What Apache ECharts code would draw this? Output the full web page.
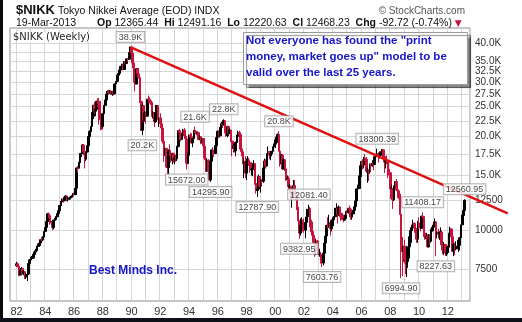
<!DOCTYPE html>
<html>
<head>
<meta charset="utf-8">
<script src="https://cdn.jsdelivr.net/npm/echarts/dist/echarts.min.js"></script>
<style>
  html, body { margin: 0; padding: 0; background: #fff; }
  #wrap { position: relative; width: 522px; height: 322px; overflow: hidden; background: #fff; }
  #chart { position: absolute; left: 0; top: 0; width: 522px; height: 322px; }
  .edgeL { position: absolute; left: 0; top: 0; width: 3px; height: 322px; background: #0a0a0a; }
  .edgeB { position: absolute; left: 0; top: 318px; width: 522px; height: 4px; background: #101018; }
</style>
</head>
<body>
<div id="wrap"><div id="chart"></div><div class="edgeL"></div><div class="edgeB"></div></div>
<script>
// Axis span (monthly bands) and first month with a bar
const axisStart = '1981-08';
const axisEnd = '2013-07';
const firstMonth = '1982-01';
const openBeforeFirst = 7681;

// Monthly closes, Jan 1982 .. Mar 2013 (12 per row)
const closes = [
  7780,7650,7160,7380,7520,7240,7340,7060,7180,7210,7800,8016,
  8100,8130,8350,8500,8580,8860,8910,9080,9310,9300,9490,9893,
  10200,10650,11290,11130,10560,10550,10200,10760,10800,11040,11300,11542,
  11990,12320,12580,12430,12760,12880,12560,12670,12700,12760,12870,13113,
  13020,13640,15860,15830,16490,17650,17690,18820,17850,16910,17850,18701,
  20020,20770,21570,23270,25260,24180,24490,26030,26010,23330,22690,21564,
  23720,25240,26260,27400,27990,27770,28050,27430,27920,27510,29580,30159,
  31580,31990,32840,33710,34270,32950,34950,34430,35640,35550,37270,38916,
  37189,34591,29980,29584,33131,31940,31036,25978,20984,25194,22454,23849,
  23293,26409,26292,26111,25790,23291,23900,22335,23916,25222,22687,22984,
  22023,21339,19346,17391,18348,15951,15910,18061,17399,16767,17683,16925,
  17024,16953,18591,20919,20552,19590,20380,21027,20106,19703,16408,17417,
  20229,19997,19112,19725,20974,20644,20449,20628,19564,19990,19076,19723,
  18650,17053,16140,16807,15437,14517,16678,18117,17913,17655,18744,19868,
  20813,20125,21407,22041,21956,22531,20693,20167,21556,20467,21020,19361,
  18330,18557,18003,19151,20069,20605,20331,18229,17888,16459,16636,15259,
  16628,16832,16527,15641,15671,15830,16379,14108,13406,13564,14883,13842,
  14499,14368,15837,16702,16112,17530,17862,17437,17605,17942,18558,18934,
  19540,19960,20337,17974,16332,17411,15727,16861,15747,14540,14649,13786,
  13844,12884,12999,13934,13262,12969,11861,10713,9775,10367,10697,10543,
  9998,10588,11025,11493,11764,10622,9877,9619,9383,8640,9216,8579,
  8340,8363,7973,7831,8425,9083,9563,10344,10219,10560,10101,10677,
  10784,11042,11715,11762,11237,11859,11326,11082,10824,10771,10899,11489,
  11388,11741,11668,11009,11277,11584,11900,12414,13574,13607,14872,16111,
  16650,16205,17060,16906,15467,15505,15457,16140,16128,16399,16274,17226,
  17383,17604,17288,17400,17876,18138,17248,16569,16785,16737,15680,15308,
  13592,13603,12526,13850,14339,13481,13377,13073,11260,8577,8512,8860,
  7994,7568,8110,8828,9523,9958,10357,10493,10133,10034,9345,10546,
  10198,10126,11090,11057,9769,9383,9537,8824,9369,9202,9937,10229,
  10237,10624,9755,9849,9694,9816,9833,8955,8700,8988,8435,8455,
  8803,9723,10084,9521,8543,9007,8695,8840,8870,8928,9446,10395,
  11139,11559,12468
];

// Monthly highs
const highs = [
  7900,7850,7700,7450,7600,7550,7420,7350,7250,7300,7850,8050,
  8200,8250,8400,8550,8700,8900,9050,9150,9350,9500,9550,9920,
  10300,10750,11330,11400,11250,10700,10600,10800,10950,11100,11350,11580,
  12050,12400,12650,12600,12800,12950,12900,12750,12800,12850,12950,13130,
  13200,13700,15900,16100,16600,17700,18000,18900,18900,17900,17950,18820,
  20100,21000,21600,24000,25300,25900,24900,26100,26600,26650,23800,23200,
  23800,25300,26300,27500,28200,28350,28300,28200,28000,28000,29650,30200,
  31650,32300,32900,33800,34350,34300,35000,35300,35700,35800,37400,38916,
  38700,37500,34600,30300,33300,33200,33300,31200,26200,25500,25200,24200,
  24100,26500,27150,26800,26400,25900,24200,24000,24100,25300,25100,23000,
  23800,22300,21300,19200,18400,18300,16300,18200,18900,17600,17700,17600,
  17400,17500,18700,21000,21200,20700,20500,21200,21300,20600,19800,17700,
  20300,20600,20500,19800,21000,21552,20900,20800,20700,20200,19900,19800,
  19700,18700,17200,17000,16900,15500,16800,18200,18500,18100,18900,20000,
  20900,21000,21500,22300,22500,22760,22600,21200,21700,21700,21300,21000,
  19300,19000,18700,19300,20300,20900,20900,20300,18500,18300,17000,17300,
  17000,17300,17100,16500,15900,16000,16800,16400,14400,14000,15100,14800,
  14600,14600,16400,17000,16900,17700,18600,18000,17900,18000,18600,19000,
  19700,20000,20500,20833,18200,17600,17600,17000,16800,15900,15000,14900,
  14100,13900,13200,14500,14500,13500,13000,12000,10700,10900,11000,10800,
  10900,10700,11700,11700,12081.4,11900,10800,10200,9900,9400,9300,9300,
  8800,8700,8500,8200,8500,9200,9900,10400,11000,11200,10800,10800,
  11000,11100,11800,12200,11800,12000,11900,11300,11300,11200,11200,11500,
  11600,11800,12000,11800,11400,11600,11950,12500,13600,14000,15000,16400,
  16700,16900,17200,17600,17200,15900,15700,16400,16400,16800,16500,17300,
  17600,18300.39,17800,17700,17900,18250,18290,17400,16800,17400,16700,16000,
  15200,14000,13600,13900,14400,14600,13600,13500,12900,11300,9500,8900,
  9300,8100,8900,9000,9600,10200,10400,10800,10600,10400,10000,10700,
  10980,10400,11100,11408.17,11000,10300,9800,9700,9700,9700,10100,10400,
  10600,10900,10700,9900,10100,9900,10200,10000,9100,9150,8900,8700,
  8900,9800,10255,10100,9500,9100,9100,9200,9300,9100,9500,10400,
  11200,11660,12560.95
];

// Monthly lows
const lows = [
  7600,7580,7100,7120,7300,7200,7150,6950,6950,6850,7180,7700,
  7950,8000,8100,8300,8450,8550,8800,8850,9050,9200,9200,9450,
  9850,10150,10600,10950,10400,10300,10000,10050,10650,10750,11000,11250,
  11500,11950,12250,12250,12400,12700,12400,12350,12500,12550,12700,12850,
  12900,12950,13600,15300,15800,16450,17200,17600,17400,15800,16700,17800,
  18500,19800,20400,21500,22800,23800,23300,24400,25000,21900,21000,21000,
  21200,23600,25100,26200,27100,27400,27500,27300,27100,27200,27400,29000,
  30100,31200,31600,32600,33500,32700,32900,34200,34300,34900,35500,37100,
  36900,33300,29900,28000,29500,31300,30800,25700,20900,20222,22400,22500,
  22000,23200,25700,25600,25300,23200,22900,21500,22200,23800,22600,21500,
  21800,20700,19000,16600,17300,15900,15100,14700,17300,16500,16300,16500,
  16300,16600,16700,18500,20100,19300,19500,20000,19900,19600,15672,16300,
  17300,19300,19000,18500,19700,20500,20200,20200,19500,19500,18900,18900,
  17700,16800,15400,15400,15400,14400,14295.9,16500,17400,17200,17600,18700,
  19600,19800,19900,21200,21400,21700,20500,20000,19900,20300,20400,19200,
  17300,17800,17800,17300,19100,20000,19800,18000,17300,16300,14700,14700,
  14500,16200,16100,15300,15000,14900,15700,14000,13100,12787.9,13500,13700,
  13200,13900,14200,15900,15900,16000,17400,16900,16800,17300,17800,18000,
  18400,19300,19100,17900,16000,16100,15700,15700,15500,14400,14100,13400,
  13200,12600,11800,12700,13100,12500,11600,10700,9382.95,9600,10100,9900,
  9800,9400,10300,10800,11300,10200,9700,9100,9000,8200,8300,8400,
  8300,8200,7800,7603.76,7700,8400,9000,9300,10100,10200,9600,9900,
  10500,10300,10900,11400,10500,11100,11000,10700,10800,10600,10700,10800,
  11200,11300,11600,10800,10800,11200,11500,11800,12300,13100,13600,14800,
  15400,15700,15800,16700,15300,14200,14400,15200,15500,16000,15600,16200,
  16900,17300,16500,17000,17200,17700,17000,15270,15800,16300,14700,15000,
  12600,12900,11700,12400,13600,13400,12700,12600,11200,6994.9,7100,7900,
  7800,7200,7054,7900,8600,9300,9100,10200,9800,9700,9100,9100,
  10100,9900,10200,10900,9500,9300,9100,8800,8800,9000,9100,9900,
  10100,10300,8227.63,9400,9400,9300,9800,8600,8350,8300,8250,8250,
  8350,8800,9700,9400,8500,8240,8300,8600,8700,8500,8600,9400,
  10400,10900,11400
];

// Right-axis price ticks
const yTicks = [7500, 10000, 12500, 15000, 17500, 20000, 22500, 25000, 27500, 30000, 32500, 35000, 37500, 40000];
const yMin = 5905, yMax = 44830;

// Value callouts: month, which extreme, text style
const callouts = [
  ['1989-12', 'high', 'K'],
  ['1990-10', 'low', 'K'],
  ['1994-06', 'high', 'K'],
  ['1996-06', 'high', 'K'],
  ['1993-11', 'low', 'full'],
  ['1995-07', 'low', 'full'],
  ['1998-10', 'low', 'full'],
  ['2000-04', 'high', 'K'],
  ['2002-05', 'high', 'full'],
  ['2001-09', 'low', 'full'],
  ['2003-04', 'low', 'full'],
  ['2007-02', 'high', 'full'],
  ['2008-10', 'low', 'full'],
  ['2010-04', 'high', 'full'],
  ['2011-03', 'low', 'full'],
  ['2013-03', 'high', 'full']
];

// Long-term resistance line: [month, price]
const trendLine = [['1989-12', 38916], ['2016-03', 11310]];

function monthIndex(key) {
  const y = +key.slice(0, 4), m = +key.slice(5, 7);
  const y0 = +axisStart.slice(0, 4), m0 = +axisStart.slice(5, 7);
  return (y - y0) * 12 + (m - m0);
}
function keyOf(i) {
  const y0 = +axisStart.slice(0, 4), m0 = +axisStart.slice(5, 7) - 1;
  const t = m0 + i;
  const y = y0 + Math.floor(t / 12), m = (t % 12) + 1;
  return y + '-' + (m < 10 ? '0' : '') + m;
}

const nMonths = monthIndex(axisEnd) + 1;
const months = [];
for (let i = 0; i < nMonths; i++) months.push(keyOf(i));

const first = monthIndex(firstMonth);
const candles = months.map(() => '-');
for (let i = 0; i < closes.length; i++) {
  const open = i === 0 ? openBeforeFirst : closes[i - 1];
  candles[first + i] = [open, closes[i], lows[i], highs[i]];
}

const calloutData = callouts.map(([key, which, style]) => {
  const k = monthIndex(key) - first;
  const v = which === 'high' ? highs[k] : lows[k];
  const text = style === 'K' ? (v / 1000).toFixed(1) + 'K' : v.toFixed(2);
  return {
    value: [monthIndex(key), v],
    label: { position: which === 'high' ? 'top' : 'bottom', formatter: text }
  };
});

const trendData = trendLine.map(([key, v]) => [monthIndex(key), v]);

// Plot frame and a wider, invisible overlay grid (same month scale) for the trend line
const PLOT = { left: 10, right: 52, top: 28, bottom: 21 };
const W = 522;
const plotW = W - PLOT.left - PLOT.right;
const overlayRight = 14;
const overlayW = W - PLOT.left - overlayRight;

const UP = '#000000', DOWN = '#c8143c';
const BLUE = '#1616c8';
const FONT = 'Liberation Sans, Arial, sans-serif';
const TOP = 100;

const chart = echarts.init(document.getElementById('chart'), null, { renderer: 'canvas' });
chart.setOption({
  animation: false,
  backgroundColor: '#fff',
  grid: [
    Object.assign({ show: true, borderColor: '#8c8c8c', borderWidth: 1, backgroundColor: 'transparent' }, PLOT),
    { left: PLOT.left, right: overlayRight, top: PLOT.top, bottom: PLOT.bottom, show: false }
  ],
  xAxis: [
    {
      type: 'category', data: months, boundaryGap: true, gridIndex: 0,
      axisLine: { show: false }, axisTick: { show: false },
      axisLabel: {
        interval: (i, v) => v.endsWith('-01') && (+v.slice(0, 4)) % 2 === 0,
        formatter: v => v.slice(2, 4),
        fontSize: 11, color: '#333', margin: 5, fontFamily: FONT
      },
      splitLine: { show: true, interval: (i, v) => v.endsWith('-01'), lineStyle: { color: '#d6d6d6', width: 1 } }
    },
    {
      type: 'value', gridIndex: 1, show: false,
      min: -0.5, max: -0.5 + nMonths * overlayW / plotW
    }
  ],
  yAxis: [
    {
      type: 'log', logBase: 10, position: 'right', min: yMin, max: yMax, gridIndex: 0,
      axisLine: { show: false },
      axisTick: { show: false, customValues: yTicks },
      axisLabel: {
        customValues: yTicks, showMaxLabel: true, showMinLabel: true, hideOverlap: false,
        formatter: v => v >= 15000 ? (v / 1000).toFixed(1) + 'K' : String(v),
        fontSize: 10, color: '#333', margin: 5, fontFamily: FONT
      },
      splitLine: { show: true, lineStyle: { color: '#d6d6d6', width: 1 } }
    },
    { type: 'log', logBase: 10, min: yMin, max: yMax, gridIndex: 1, show: false }
  ],
  series: [
    {
      type: 'candlestick', data: candles, barWidth: 2.2,
      itemStyle: { color: UP, color0: DOWN, borderColor: UP, borderColor0: DOWN, borderWidth: 1 },
      z: 3
    },
    {
      type: 'line', xAxisIndex: 1, yAxisIndex: 1, data: trendData, symbol: 'none', clip: false, silent: true,
      lineStyle: { color: '#e01010', width: 2.5 }, z: 4
    },
    {
      type: 'scatter', data: calloutData, symbolSize: 0, silent: true, z: 6,
      label: {
        show: true, distance: 5, fontSize: 9, fontFamily: FONT, color: '#111',
        backgroundColor: '#fff', borderColor: '#a0a0a0', borderWidth: 1, padding: [1, 2, 0, 2]
      }
    }
  ],
  graphic: [
    { type: 'text', left: 16, top: 4, z: TOP, style: { text: '$NIKK', font: 'bold 13px ' + FONT, fill: '#111' } },
    { type: 'text', left: 58, top: 6, z: TOP, style: { text: 'Tokyo Nikkei Average (EOD) INDX', font: '10.5px ' + FONT, fill: '#111' } },
    { type: 'text', left: 16, top: 18, z: TOP, style: { text: '19-Mar-2013', font: '10.5px ' + FONT, fill: '#111' } },
    {
      type: 'text', left: 97, top: 18, z: TOP,
      style: {
        text: '{b|Op} 12365.44  {b|Hi} 12491.16  {b|Lo} 12220.63  {b|Cl} 12468.23  {b|Chg} -92.72 (-0.74%) {r|▼}',
        font: '10.5px ' + FONT, fill: '#111',
        rich: { b: { fontWeight: 'bold', fontSize: 10.5, fontFamily: FONT }, r: { fill: '#c8143c', fontSize: 9, fontFamily: 'DejaVu Sans' } }
      }
    },
    { type: 'text', right: 57, top: 6, z: TOP, style: { text: '© StockCharts.com', font: '10px ' + FONT, fill: '#555' } },
    {
      type: 'text', left: 12, top: 32, z: TOP,
      style: { text: '$NIKK (Weekly)', font: '10px DejaVu Sans, sans-serif', fill: '#222', backgroundColor: '#fff', padding: [0, 1] }
    },
    {
      type: 'rect', left: 243, top: 32, z: TOP,
      shape: { x: 0, y: 0, width: 224, height: 52 },
      style: { fill: '#fff', stroke: '#9a9a9a', lineWidth: 1, shadowColor: 'rgba(0,0,0,0.45)', shadowOffsetX: 3, shadowOffsetY: 3, shadowBlur: 1 }
    },
    { type: 'text', left: 246, top: 35, z: TOP + 1, style: { text: 'Not everyone has found the "print', font: 'bold 11.5px ' + FONT, fill: BLUE } },
    { type: 'text', left: 246, top: 51, z: TOP + 1, style: { text: 'money, market goes up" model to be', font: 'bold 11.5px ' + FONT, fill: BLUE } },
    { type: 'text', left: 246, top: 67, z: TOP + 1, style: { text: 'valid over the last 25 years.', font: 'bold 11.5px ' + FONT, fill: BLUE } },
    { type: 'text', left: 89, top: 265, z: TOP, style: { text: 'Best Minds Inc.', font: 'bold 12px ' + FONT, fill: BLUE } }
  ]
});
</script>
</body>
</html>
